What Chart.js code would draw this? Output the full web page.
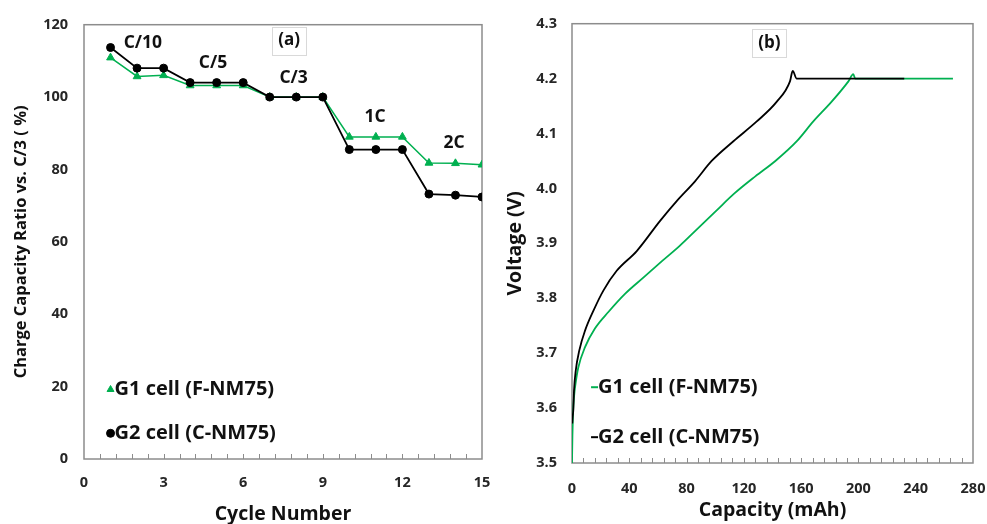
<!DOCTYPE html>
<html>
<head>
<meta charset="utf-8">
<script src="https://cdn.jsdelivr.net/npm/chart.js@4.4.1/dist/chart.umd.min.js"></script>
<style>
    body { margin: 0; background: #fff; }
    #wrapA { position: absolute; left: 0; top: 0; width: 490px; height: 524px; }
    #wrapB { position: absolute; left: 490px; top: 0; width: 497px; height: 524px; }
</style>
</head>
<body>
<div id="wrapA"><canvas id="ratioChart" width="490" height="524"></canvas></div>
<div id="wrapB"><canvas id="voltageChart" width="497" height="524"></canvas></div>
<script>
// (a) charge capacity ratio per cycle
var cycles = [1, 2, 3, 4, 5, 6, 7, 8, 9, 10, 11, 12, 13, 14, 15];
var g1Ratio = [110.9, 105.7, 106.0, 103.2, 103.2, 103.2, 100, 100, 100, 89.0, 89.0, 89.0, 81.8, 81.7, 81.3];
var g2Ratio = [113.7, 108.0, 108.0, 104.0, 104.0, 104.0, 100, 100, 100, 85.5, 85.5, 85.5, 73.2, 72.9, 72.4];
var rateLabels = ['C/10', 'C/5', 'C/3', '1C', '2C'];

// (b) charge curves, capacity (mAh) vs voltage (V)
var g1Capacity = [0, 0.3, 0.7, 1.4, 2.5, 4.4, 9.1, 16, 25.4, 37, 50, 63, 75, 87, 101, 113, 128, 142, 157, 168.5, 181.3, 193, 196.4, 197.8, 266];
var g1Voltage  = [3.50, 3.55, 3.59, 3.62, 3.645, 3.674, 3.711, 3.745, 3.775, 3.808, 3.838, 3.868, 3.895, 3.925, 3.960, 3.990, 4.022, 4.050, 4.086, 4.122, 4.158, 4.195, 4.208, 4.2, 4.2];
var g2Capacity = [0.2, 0.5, 0.9, 1.4, 2.6, 5.1, 9.1, 14.9, 21.9, 31.2, 45.2, 61.5, 73.1, 85.9, 97.5, 112.7, 129, 143, 152.2, 154.1, 156.9, 232];
var g2Voltage  = [3.572, 3.585, 3.596, 3.632, 3.668, 3.705, 3.741, 3.777, 3.814, 3.850, 3.886, 3.941, 3.977, 4.013, 4.050, 4.086, 4.122, 4.158, 4.195, 4.214, 4.2, 4.2];

var green = '#00b050';
var black = '#000000';
var tickColor = '#262626';
var FONT = '"Open Sans"';

Chart.defaults.font.family = '"Open Sans", Lato, sans-serif';
Chart.defaults.font.weight = 'bold';
Chart.defaults.color = tickColor;

function pairs(xs, ys) {
    return xs.map(function(x, i) { return { x: x, y: ys[i] }; });
}

var framePlugin = {
    id: 'frame',
    beforeDatasetsDraw: function(chart, args, opts) {
        var ctx = chart.ctx, a = chart.chartArea, xs = chart.scales.x;
        ctx.save();
        ctx.strokeStyle = '#8c8c8c';
        ctx.lineWidth = 1.5;
        ctx.strokeRect(a.left, a.top, a.right - a.left, a.bottom - a.top);
        ctx.lineWidth = 1;
        ctx.beginPath();
        var n = Math.round((xs.max - xs.min) / opts.minorStep);
        for (var i = 1; i < n; i++) {
            var px = Math.round(xs.getPixelForValue(xs.min + i * opts.minorStep)) + 0.5;
            ctx.moveTo(px, a.bottom);
            ctx.lineTo(px, a.bottom - 5);
        }
        ctx.stroke();
        ctx.restore();
    },
    afterDraw: function(chart, args, opts) {
        var ctx = chart.ctx, xs = chart.scales.x, ys = chart.scales.y;
        ctx.save();
        ctx.textBaseline = 'middle';

        // panel tag
        ctx.font = 'bold 17px ' + FONT;
        var px = xs.getPixelForValue(opts.panel.x), py = ys.getPixelForValue(opts.panel.y);
        var w = ctx.measureText(opts.panel.text).width + 12;
        ctx.fillStyle = '#fff';
        ctx.fillRect(px - w / 2, py - 14, w, 28);
        ctx.strokeStyle = '#d9d9d9';
        ctx.lineWidth = 1;
        ctx.strokeRect(Math.round(px - w / 2) + 0.5, Math.round(py - 14) + 0.5, Math.round(w), 28);
        ctx.fillStyle = '#111';
        ctx.textAlign = 'center';
        ctx.fillText(opts.panel.text, px, py);

        // rate notes
        ctx.font = 'bold 17.5px ' + FONT;
        (opts.notes || []).forEach(function(n) {
            ctx.fillText(n.text, xs.getPixelForValue(n.x), ys.getPixelForValue(n.y));
        });

        // legend
        ctx.font = 'bold 20px ' + FONT;
        ctx.textAlign = 'left';
        opts.legend.forEach(function(item) {
            var ds = chart.data.datasets[item.index];
            var lx = xs.getPixelForValue(item.x), ly = ys.getPixelForValue(item.y);
            var tx;
            ctx.fillStyle = ds.borderColor;
            ctx.strokeStyle = ds.borderColor;
            if (item.kind === 'line') {
                ctx.lineWidth = 2;
                ctx.beginPath();
                ctx.moveTo(lx, ly);
                ctx.lineTo(lx + 7, ly);
                ctx.stroke();
                tx = lx + 7;
            } else {
                Chart.helpers.drawPoint(ctx, { pointStyle: ds.pointStyle, radius: 4, rotation: 0, borderWidth: 1 }, lx, ly);
                tx = lx + 4;
            }
            ctx.fillStyle = '#111';
            ctx.fillText(ds.label, tx, ly);
        });
        ctx.restore();
    }
};

var tickFont = { size: 14.5, weight: 'bold' };

function fixX(h) {
    return function(scale) {
        scale.height = h;
        scale.paddingLeft = 0;
        scale.paddingRight = 0;
    };
}

var ratioChart = new Chart(document.getElementById('ratioChart').getContext('2d'), {
    type: 'scatter',
    data: {
        datasets: [{
            label: 'G1 cell (F-NM75)',
            data: pairs(cycles, g1Ratio),
            showLine: true,
            borderColor: green,
            backgroundColor: green,
            borderWidth: 1.5,
            pointStyle: 'triangle',
            pointRadius: 4.5,
            pointBorderWidth: 1,
            order: 1
        }, {
            label: 'G2 cell (C-NM75)',
            data: pairs(cycles, g2Ratio),
            showLine: true,
            borderColor: black,
            backgroundColor: black,
            borderWidth: 1.8,
            pointStyle: 'circle',
            pointRadius: 4,
            pointBorderWidth: 1,
            order: 0
        }]
    },
    options: {
        responsive: false,
        animation: false,
        layout: { padding: { top: 22, right: 8, left: 0, bottom: 0 } },
        plugins: {
            legend: { display: false },
            tooltip: { enabled: false },
            frame: {
                minorStep: 0.6,
                panel: { text: '(a)', x: 7.73, y: 115.6 },
                notes: [
                    { text: rateLabels[0], x: 2.22, y: 115 },
                    { text: rateLabels[1], x: 4.86, y: 109.3 },
                    { text: rateLabels[2], x: 7.9, y: 105.2 },
                    { text: rateLabels[3], x: 10.97, y: 94.5 },
                    { text: rateLabels[4], x: 13.95, y: 87.3 }
                ],
                legend: [
                    { index: 0, kind: 'marker', x: 1, y: 19.2 },
                    { index: 1, kind: 'marker', x: 1, y: 7.1 }
                ]
            }
        },
        scales: {
            x: {
                type: 'linear',
                min: 0,
                max: 15,
                ticks: { stepSize: 3, padding: 15, font: tickFont, color: tickColor },
                grid: { display: false, drawTicks: false },
                border: { display: false },
                title: { display: true, text: 'Cycle Number', color: '#111', font: { size: 19.5, weight: 'bold', lineHeight: 1 }, padding: { top: 0, bottom: 0 } },
                afterFit: fixX(65)
            },
            y: {
                min: 0,
                max: 120,
                ticks: { stepSize: 20, padding: 16, font: tickFont, color: tickColor },
                grid: { display: false, drawTicks: false },
                border: { display: false },
                title: { display: true, text: 'Charge Capacity Ratio vs. C/3 ( %)', color: '#111', font: { size: 16.5, weight: 'bold', lineHeight: 1.2 }, padding: { top: 11, bottom: 0 } },
                afterFit: function(scale) { scale.width = 84; }
            }
        }
    },
    plugins: [framePlugin]
});

var voltageChart = new Chart(document.getElementById('voltageChart').getContext('2d'), {
    type: 'scatter',
    data: {
        datasets: [{
            label: 'G1 cell (F-NM75)',
            data: pairs(g1Capacity, g1Voltage),
            showLine: true,
            borderColor: green,
            backgroundColor: green,
            borderWidth: 1.8,
            pointRadius: 0,
            cubicInterpolationMode: 'monotone',
            order: 1
        }, {
            label: 'G2 cell (C-NM75)',
            data: pairs(g2Capacity, g2Voltage),
            showLine: true,
            borderColor: black,
            backgroundColor: black,
            borderWidth: 1.8,
            pointRadius: 0,
            cubicInterpolationMode: 'monotone',
            order: 0
        }]
    },
    options: {
        responsive: false,
        animation: false,
        layout: { padding: { top: 22, right: 14, left: 0, bottom: 0 } },
        plugins: {
            legend: { display: false },
            tooltip: { enabled: false },
            frame: {
                minorStep: 8,
                panel: { text: '(b)', x: 137.9, y: 4.265 },
                legend: [
                    { index: 0, kind: 'line', x: 13.3, y: 3.638 },
                    { index: 1, kind: 'line', x: 13.3, y: 3.547 }
                ]
            }
        },
        scales: {
            x: {
                type: 'linear',
                min: 0,
                max: 280,
                ticks: { stepSize: 40, padding: 17, font: tickFont, color: tickColor },
                grid: { display: false, drawTicks: false },
                border: { display: false },
                title: { display: true, text: 'Capacity (mAh)', color: '#111', font: { size: 19.5, weight: 'bold', lineHeight: 1 }, padding: { top: 0, bottom: 4 } },
                afterFit: fixX(61)
            },
            y: {
                min: 3.5,
                max: 4.3,
                ticks: {
                    stepSize: 0.1,
                    padding: 15,
                    font: tickFont,
                    color: tickColor,
                    callback: function(v) { return v.toFixed(1); }
                },
                grid: { display: false, drawTicks: false },
                border: { display: false },
                title: { display: true, text: 'Voltage (V)', color: '#111', font: { size: 19.5, weight: 'bold', lineHeight: 1.2 }, padding: { top: 14, bottom: 0 } },
                afterFit: function(scale) { scale.width = 82; }
            }
        }
    },
    plugins: [framePlugin]
});
</script>
</body>
</html>
